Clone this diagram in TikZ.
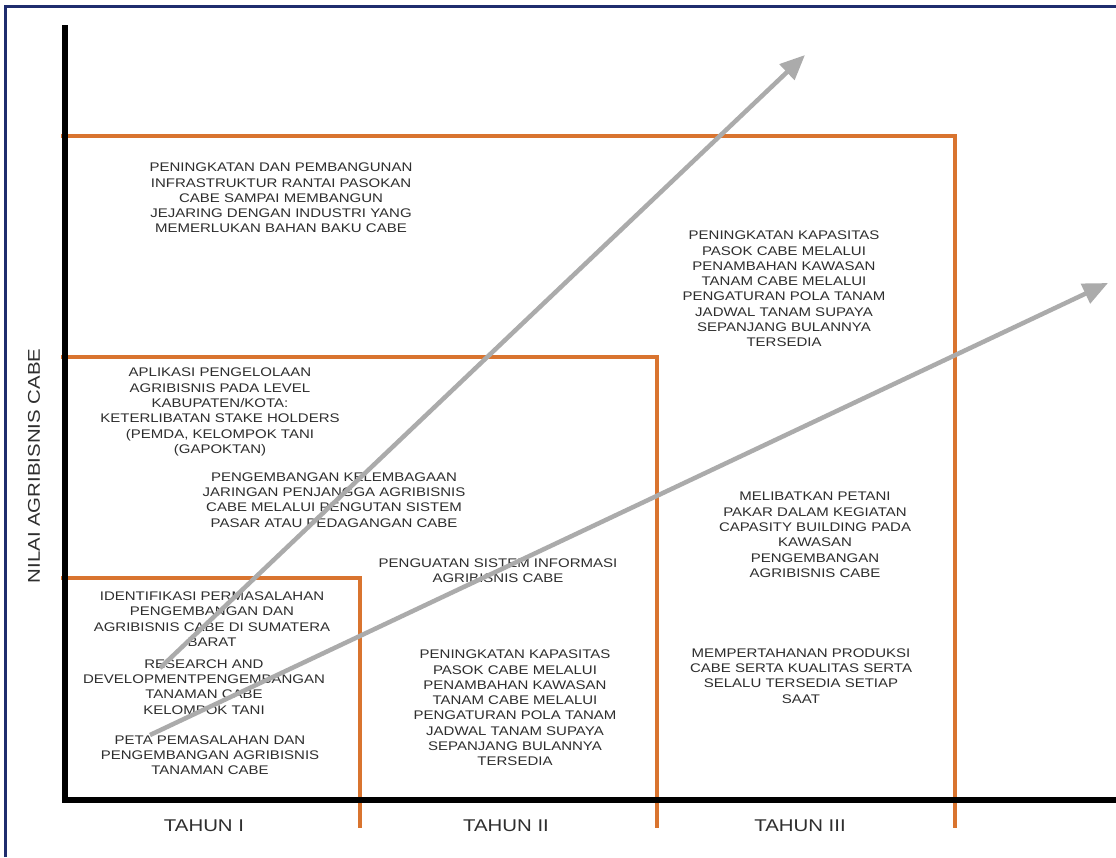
\documentclass[tikz,border=0pt]{standalone}
\usepackage{fontspec}
\setmainfont{Liberation Sans}
\newfontfamily\widefont[FakeStretch=1.2]{Liberation Sans}
\usetikzlibrary{arrows.meta}
\definecolor{axorange}{HTML}{D9742F}
\definecolor{argray}{HTML}{ABABAB}
\definecolor{txtgray}{HTML}{2E2E2E}
\definecolor{navyframe}{HTML}{1F2D6E}
\begin{document}
\begin{tikzpicture}[x=1pt,y=-1pt,
 blk/.style={align=center, text=txtgray, font=\widefont\fontsize{12.5}{15.3}\selectfont, inner sep=0pt},
 axlabel/.style={text=txtgray, font=\widefont\fontsize{17}{20}\selectfont, inner sep=0pt},
 axisline/.style={line width=6pt, black},
 bandline/.style={line width=4.5pt, axorange},
 growarrow/.style={line width=4.5pt, argray, -{Triangle[length=25pt,width=21pt]}},
]
\useasboundingbox (0,0) rectangle (1116,857);
\fill[white] (0,0) rectangle (1116,857);
\draw[navyframe, line width=3pt] (5,857) -- (5,6) -- (1116,6);

% year bands
\draw[bandline] (61,136) -- (955,136) -- (955,828);
\draw[bandline] (61,357) -- (657,357) -- (657,828);
\draw[bandline] (61,578) -- (360,578) -- (360,828);

% axes
\draw[axisline] (65,25) -- (65,800) -- (1116,800);

% texts
\node[blk] (tA) at (281,198) {PENINGKATAN DAN PEMBANGUNAN\\INFRASTRUKTUR RANTAI PASOKAN\\CABE SAMPAI MEMBANGUN\\JEJARING DENGAN INDUSTRI YANG\\MEMERLUKAN BAHAN BAKU CABE};
\node[blk] (tB) at (784,289) {PENINGKATAN KAPASITAS\\PASOK CABE MELALUI\\PENAMBAHAN KAWASAN\\TANAM CABE MELALUI\\PENGATURAN POLA TANAM\\JADWAL TANAM SUPAYA\\SEPANJANG BULANNYA\\TERSEDIA};
\node[blk] (tC) at (220,412) {APLIKASI PENGELOLAAN\\AGRIBISNIS PADA LEVEL\\KABUPATEN/KOTA:\\KETERLIBATAN STAKE HOLDERS\\(PEMDA, KELOMPOK TANI\\(GAPOKTAN)};
\node[blk] (tD) at (334,500) {PENGEMBANGAN KELEMBAGAAN\\JARINGAN PENJANGGA AGRIBISNIS\\CABE MELALUI PENGUTAN SISTEM\\PASAR ATAU PEDAGANGAN CABE};
\node[blk] (tE) at (498,571) {PENGUATAN SISTEM INFORMASI\\AGRIBISNIS CABE};
\node[blk] (tF) at (212,619) {IDENTIFIKASI PERMASALAHAN\\PENGEMBANGAN DAN\\AGRIBISNIS CABE DI SUMATERA\\BARAT};
\node[blk] (tG) at (204,687) {RESEARCH AND\\DEVELOPMENTPENGEMBANGAN\\TANAMAN CABE\\KELOMPOK TANI};
\node[blk] (tH) at (210,755) {PETA PEMASALAHAN DAN\\PENGEMBANGAN AGRIBISNIS\\TANAMAN CABE};
\node[blk] (tI) at (515,708) {PENINGKATAN KAPASITAS\\PASOK CABE MELALUI\\PENAMBAHAN KAWASAN\\TANAM CABE MELALUI\\PENGATURAN POLA TANAM\\JADWAL TANAM SUPAYA\\SEPANJANG BULANNYA\\TERSEDIA};
\node[blk] (tJ) at (815,535) {MELIBATKAN PETANI\\PAKAR DALAM KEGIATAN\\CAPASITY BUILDING PADA\\KAWASAN\\PENGEMBANGAN\\AGRIBISNIS CABE};
\node[blk] (tK) at (801,676) {MEMPERTAHANAN PRODUKSI\\CABE SERTA KUALITAS SERTA\\SELALU TERSEDIA SETIAP\\SAAT};

% growth arrows
\coordinate (a1s) at (160,668);
\coordinate (a1e) at (805,55);
\coordinate (a2s) at (150,735);
\coordinate (a2e) at (1108,283);
\draw[growarrow] (a1s) -- (a1e);
\draw[growarrow] (a2s) -- (a2e);

% axis labels
\node[axlabel, rotate=90] (ylab) at (34,466) {NILAI AGRIBISNIS CABE};
\node[axlabel] (x1) at (204,826) {TAHUN I};
\node[axlabel] (x2) at (506,826) {TAHUN II};
\node[axlabel] (x3) at (800,826) {TAHUN III};
\end{tikzpicture}
\end{document}
